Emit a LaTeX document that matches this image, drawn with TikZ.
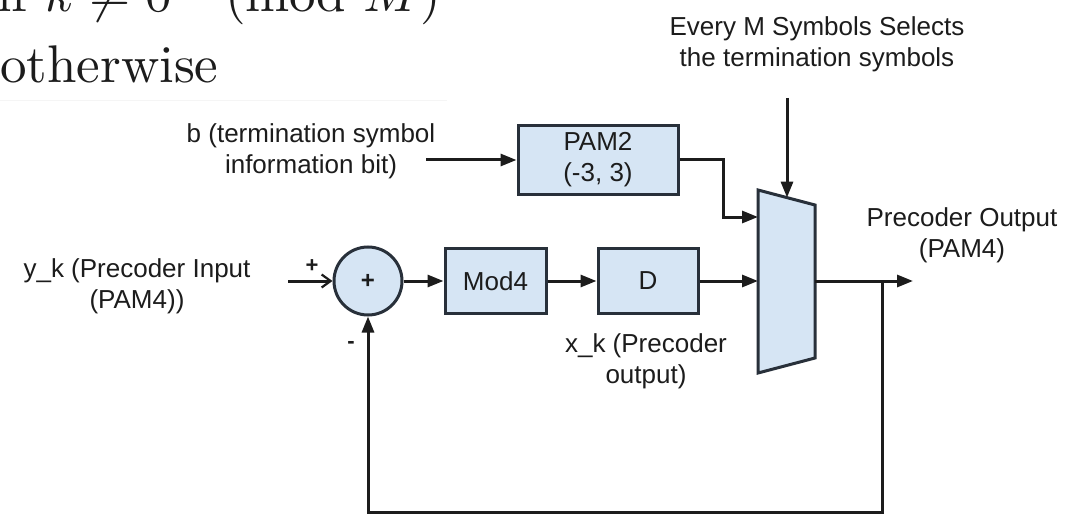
\documentclass[tikz,border=0pt]{standalone}
\usepackage{graphicx}
\usepackage{fontspec}
\newfontfamily\arialf{Liberation Sans}
\usetikzlibrary{arrows.meta,calc}
\definecolor{boxfill}{RGB}{214,229,244}
\definecolor{boxline}{RGB}{40,48,58}
\definecolor{ink}{RGB}{28,28,28}
\tikzset{
  lbl/.style={font=\arialf\fontsize{26}{31}\selectfont, text=ink, align=center, inner sep=0pt},
  sgn/.style={font=\arialf\bfseries\fontsize{22}{26}\selectfont, text=ink, inner sep=0pt},
  blk/.style={draw=boxline, fill=boxfill, line width=3pt, text=ink, inner sep=0pt,
              font=\arialf\fontsize{26}{31}\selectfont, align=center},
  wire/.style={draw=ink, line width=3pt},
  arr/.style={wire, -{Triangle[length=16pt,width=12pt]}},
  openarr/.style={wire, -{Straight Barb[length=9pt,width=13pt,line width=2.2pt]}}
}
\begin{document}
\begin{tikzpicture}[x=1pt,y=-1pt]
\useasboundingbox (0,0) rectangle (1074,516);
\clip (0,0) rectangle (1074,516);
\fill[white] (0,0) rectangle (1074,516);

% cropped formula text
\node[anchor=base west, inner sep=0pt, text=ink] (cond) at (-3,12)
  {\scalebox{5.3}{if $k \neq 0 \pmod{M}$}};
\node[anchor=base west, inner sep=0pt, text=ink] (other) at (0,83)
  {\scalebox{5.3}{otherwise}};
\draw[gray!8, line width=1pt] (0,101) -- (447,101);

% blocks
\node[blk, circle, minimum size=68pt, font=\arialf\bfseries\fontsize{24}{28}\selectfont] (sum) at (368,281) {+};
\node[blk, minimum width=101pt, minimum height=65pt] (mod) at (495.5,281) {Mod4};
\node[blk, minimum width=100pt, minimum height=65pt] (dly) at (648,281) {D};
\node[blk, minimum width=160pt, minimum height=68pt] (pam) at (598,160) {PAM2\\(-3, 3)};

% multiplexer
\coordinate (m1) at (758,190);
\coordinate (m2) at (815,205);
\coordinate (m3) at (815,358);
\coordinate (m4) at (758,373);
\path[blk] (m1) -- (m2) -- (m3) -- (m4) -- cycle;
\coordinate (muxA) at (758,217);
\coordinate (muxB) at (758,281);
\coordinate (muxT) at (787,197.6);
\coordinate (muxO) at (815,281);

% free ends
\coordinate (in) at (288,281);
\coordinate (bstart) at (426,160);
\coordinate (selstart) at (787,98);
\coordinate (outend) at (913,281);
\coordinate (fbj) at (882,281);

% labels
\node[lbl] (blabel) at (311,151) {b (termination symbol\\information bit)};
\node[lbl] (ylabel) at (137,286) {y\_k (Precoder Input\\(PAM4))};
\node[lbl] (xlabel) at (646,361) {x\_k (Precoder\\output)};
\node[lbl] (olabel) at (962,235) {Precoder Output\\(PAM4)};
\node[lbl] (slabel) at (817,44) {Every M Symbols Selects\\the termination symbols};
\node[sgn] (plus) at (312,266) {+};
\node[sgn] (minus) at (351,345) {-};

% connectors
\draw[openarr] (in) -- (sum.west);
\draw[arr] (sum.east) -- (mod.west);
\draw[arr] (mod.east) -- (dly.west);
\draw[arr] (dly.east) -- (muxB);
\draw[arr] (bstart) -- (pam.west);
\draw[arr] (pam.east) -- ++(44,0) |- (muxA);
\draw[arr] (selstart) -- (muxT);
\draw[arr] (muxO) -- (outend);
\draw[arr] (fbj) -- ++(0,231) -| (sum.south);
\end{tikzpicture}
\end{document}
